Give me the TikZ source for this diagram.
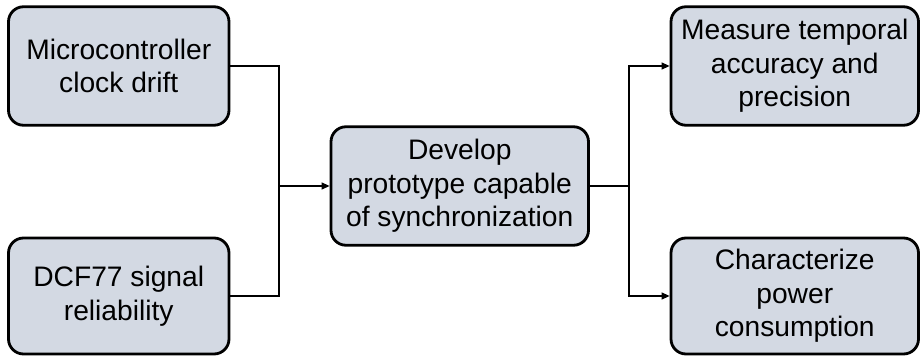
\documentclass[tikz,border=0pt]{standalone}
\usepackage{fontspec}
\setmainfont{Liberation Sans}
\usetikzlibrary{arrows.meta}
\definecolor{boxfill}{HTML}{D3D9E3}
\begin{document}
\begin{tikzpicture}[x=1pt,y=1pt,
  stepbox/.style={draw=black, line width=2.8pt, fill=boxfill, rounded corners=15pt,
    align=center, inner sep=0pt, font=\fontsize{28.2}{33.5}\selectfont},
  link/.style={draw=black, line width=1.2pt},
  arr/.style={link, -{Triangle[length=8pt,width=7pt]}}]
  \useasboundingbox (0,0) rectangle (921,356);
  % sources (left column)
  \node[stepbox, minimum width=220.5pt, minimum height=118.5pt] (drift) at (118.75,290) {Microcontroller\\clock drift};
  \node[stepbox, minimum width=220.5pt, minimum height=116pt] (dcf) at (118.75,60) {DCF77 signal\\reliability};
  % central goal
  \node[stepbox, minimum width=257.5pt, minimum height=118.5pt] (proto) at (459.75,170) {Develop\\prototype capable\\of synchronization};
  % outcomes (right column)
  \node[stepbox, minimum width=247.5pt, minimum height=118.5pt] (meas) at (794.75,290) {Measure temporal\\accuracy and\\precision};
  \node[stepbox, minimum width=247.5pt, minimum height=116pt] (power) at (794.75,60) {Characterize\\power\\consumption};
  % junction points
  \coordinate (jl) at (279,170);
  \coordinate (jr) at (629,170);
  % merge of the two sources
  \draw[link] (drift.east) -| (jl);
  \draw[link] (dcf.east) -| (jl);
  \draw[arr] (jl) -- (proto.west);
  % split to the two outcomes
  \draw[link] (proto.east) -- (jr);
  \draw[arr] (jr) |- (meas.west);
  \draw[arr] (jr) |- (power.west);
\end{tikzpicture}
\end{document}
